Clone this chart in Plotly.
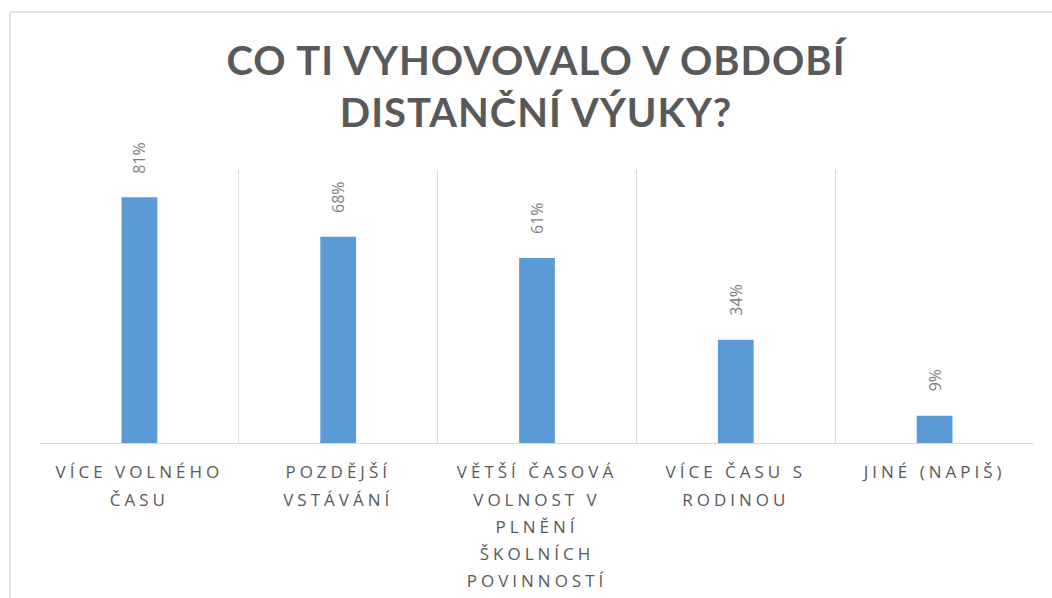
import plotly.graph_objects as go

categories = [
    "VÍCE VOLNÉHO<br>ČASU",
    "POZDĚJŠÍ<br>VSTÁVÁNÍ",
    "VĚTŠÍ ČASOVÁ<br>VOLNOST V<br>PLNĚNÍ<br>ŠKOLNÍCH<br>POVINNOSTÍ",
    "VÍCE ČASU S<br>RODINOU",
    "JINÉ (NAPIŠ)",
]
values = [0.81, 0.68, 0.61, 0.34, 0.09]
title_text = "CO TI VYHOVOVALO V OBDOBÍ<br>DISTANČNÍ VÝUKY?"

W, H = 1052, 598
ML, MR, MT, MB = 40, 18, 170, 155
pw = W - ML - MR
ph = H - MT - MB

def px_x(p):
    return (p - ML) / pw

def px_y(p):
    return (H - MB - p) / ph

fig = go.Figure()
fig.add_trace(go.Bar(
    x=categories,
    y=values,
    marker=dict(color="#5B9BD5", line=dict(width=0)),
    width=0.18,
    hoverinfo="skip",
))

annotations = [dict(
    text=title_text,
    x=0.5, xref="paper", xanchor="center",
    y=px_y(86), yref="paper", yanchor="middle",
    showarrow=False,
    font=dict(family="Lato", size=40, color="#595959", weight="bold"),
    name="title",
)]
for c, v in zip(categories, values):
    annotations.append(dict(
        text=f"{round(v * 100)}%",
        x=c, y=v, xref="x", yref="y",
        xanchor="center", yanchor="bottom",
        yshift=22,
        textangle=-90,
        showarrow=False,
        font=dict(family="Open Sans", size=16, color="#7f7f7f"),
    ))

fig.update_layout(
    width=W, height=H,
    margin=dict(l=ML, r=MR, t=MT, b=MB),
    paper_bgcolor="white",
    plot_bgcolor="white",
    showlegend=False,
    annotations=annotations,
    xaxis=dict(
        type="category",
        range=[-0.5, 4.5],
        tickson="boundaries",
        showgrid=True, gridcolor="#d9d9d9", gridwidth=1,
        showline=True, linecolor="#d9d9d9", linewidth=1,
        ticks="",
        ticklabelstandoff=14,
        tickfont=dict(family="Open Sans", size=17, color="#595959"),
    ),
    yaxis=dict(
        range=[0, 0.9],
        visible=False,
        showgrid=False,
    ),
    shapes=[dict(
        type="rect", xref="paper", yref="paper",
        x0=px_x(10), x1=px_x(1065), y0=px_y(615), y1=px_y(12),
        line=dict(color="#d9d9d9", width=1.5), fillcolor="rgba(0,0,0,0)",
        layer="below",
    )],
)

post = """
document.body.style.margin = '0';
var gd = document.getElementById('{plot_id}');
function fixText(){
  gd.querySelectorAll('.xtick text').forEach(function(t){
    t.style.letterSpacing = '4px';
    t.querySelectorAll('tspan.line').forEach(function(l, i){
      l.setAttribute('dy', (i * 1.6) + 'em');
    });
  });
  var a = gd.querySelectorAll('.annotation-text');
  if (a.length) { a[0].style.letterSpacing = '1px'; }
}
fixText();
gd.on('plotly_afterplot', fixText);
"""

fig.write_html("out.html", post_script=post, config={"displayModeBar": False})
